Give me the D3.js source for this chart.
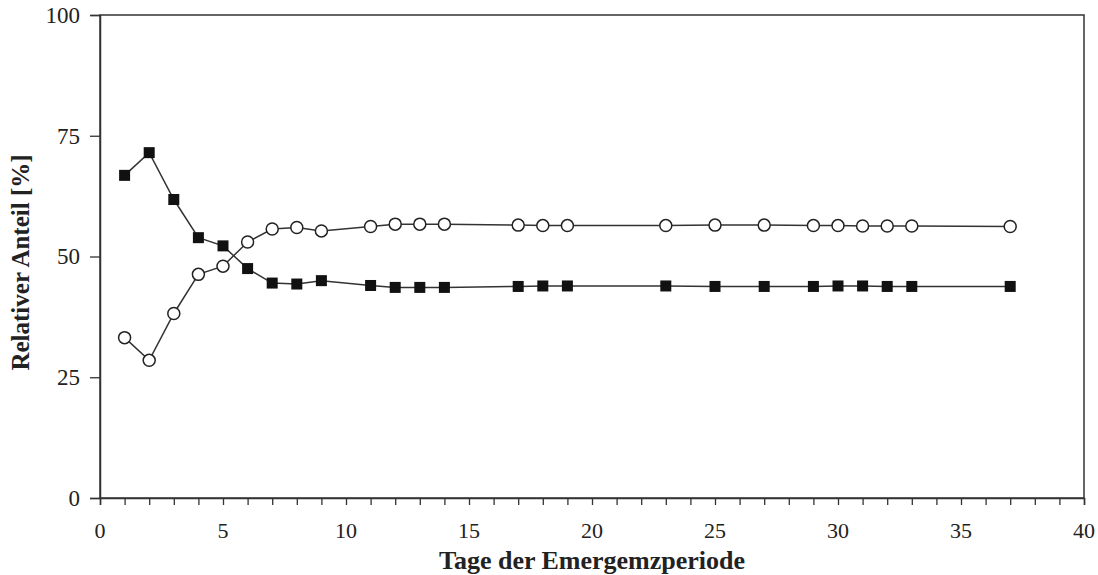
<!DOCTYPE html>
<html>
<head>
<meta charset="utf-8">
<script src="https://cdn.jsdelivr.net/npm/d3@7"></script>
<style>
  body { margin: 0; background: #fff; }
  svg text { font-family: "Liberation Serif", "Times New Roman", serif; fill: #222; }
</style>
</head>
<body>
<div id="chart"></div>
<script>
// days of the emergence period
const days = [1, 2, 3, 4, 5, 6, 7, 8, 9, 11, 12, 13, 14, 17, 18, 19, 23, 25, 27, 29, 30, 31, 32, 33, 37];

// filled squares
const squareValues = [66.8, 71.5, 61.8, 53.9, 52.2, 47.5, 44.5, 44.3, 45.0, 44.0, 43.6, 43.6, 43.6,
  43.8, 43.9, 43.9, 43.9, 43.8, 43.8, 43.8, 43.9, 43.9, 43.8, 43.8, 43.8];

// open circles
const circleValues = [33.2, 28.5, 38.2, 46.3, 48.0, 53.0, 55.7, 56.0, 55.3, 56.2, 56.7, 56.7, 56.7,
  56.5, 56.4, 56.4, 56.4, 56.5, 56.5, 56.4, 56.4, 56.3, 56.3, 56.3, 56.2];

const xTicks = [0, 5, 10, 15, 20, 25, 30, 35, 40];
const yTicks = [0, 25, 50, 75, 100];

const width = 1098;
const height = 575;
const margin = { top: 15, right: 14, bottom: 77, left: 100 };

const svg = d3.select('#chart')
  .append('svg')
  .attr('width', width)
  .attr('height', height);

const x = d3.scaleLinear()
  .domain([0, 40])
  .range([margin.left, width - margin.right]);

const y = d3.scaleLinear()
  .domain([0, 100])
  .range([height - margin.bottom, margin.top]);

// frame
svg.append('rect')
  .attr('x', x(0))
  .attr('y', y(100))
  .attr('width', x(40) - x(0))
  .attr('height', y(0) - y(100))
  .attr('fill', 'none')
  .attr('stroke', '#333')
  .attr('stroke-width', 1.5);

// minor ticks on x (every day)
const xAxis = svg.append('g')
  .attr('transform', `translate(0,${y(0)})`)
  .call(d3.axisBottom(x).tickValues(d3.range(0, 41)).tickSize(7).tickFormat(''));
xAxis.select('.domain').attr('stroke', '#333').attr('stroke-width', 1.5);
xAxis.selectAll('.tick line').attr('stroke', '#333').attr('stroke-width', 1.3);

// x tick labels
svg.append('g')
  .selectAll('text')
  .data(xTicks)
  .join('text')
  .attr('x', d => x(d))
  .attr('y', y(0) + 40)
  .attr('text-anchor', 'middle')
  .style('font-size', '22px')
  .text(d => d);

// y axis
const yAxis = svg.append('g')
  .attr('transform', `translate(${x(0)},0)`)
  .call(d3.axisLeft(y).tickValues(yTicks).tickSize(10).tickPadding(10));
yAxis.select('.domain').attr('stroke', '#333').attr('stroke-width', 1.5);
yAxis.selectAll('.tick line').attr('stroke', '#333').attr('stroke-width', 1.3);
yAxis.selectAll('text')
  .attr('font-family', '"Liberation Serif", serif')
  .style('font-size', '23px')
  .attr('fill', '#222');

// axis titles
svg.append('text')
  .attr('transform', `translate(29,${(y(0) + y(100)) / 2 + 6}) rotate(-90)`)
  .attr('text-anchor', 'middle')
  .style('font-size', '25px')
  .style('font-weight', 'bold')
  .text('Relativer Anteil [%]');

svg.append('text')
  .attr('x', (x(0) + x(40)) / 2)
  .attr('y', 569)
  .attr('text-anchor', 'middle')
  .style('font-size', '26px')
  .style('font-weight', 'bold')
  .text('Tage der Emergemzperiode');

// lines
const line = d3.line()
  .x(d => x(d[0]))
  .y(d => y(d[1]));

const squareData = days.map((d, i) => [d, squareValues[i]]);
const circleData = days.map((d, i) => [d, circleValues[i]]);

svg.append('path')
  .datum(squareData)
  .attr('d', line)
  .attr('fill', 'none')
  .attr('stroke', '#333')
  .attr('stroke-width', 1.5);

svg.append('path')
  .datum(circleData)
  .attr('d', line)
  .attr('fill', 'none')
  .attr('stroke', '#333')
  .attr('stroke-width', 1.5);

// markers
const sq = 11;
svg.append('g')
  .selectAll('rect')
  .data(squareData)
  .join('rect')
  .attr('x', d => x(d[0]) - sq / 2)
  .attr('y', d => y(d[1]) - sq / 2)
  .attr('width', sq)
  .attr('height', sq)
  .attr('fill', '#111');

svg.append('g')
  .selectAll('circle')
  .data(circleData)
  .join('circle')
  .attr('cx', d => x(d[0]))
  .attr('cy', d => y(d[1]))
  .attr('r', 6)
  .attr('fill', '#fff')
  .attr('stroke', '#222')
  .attr('stroke-width', 1.5);
</script>
</body>
</html>
